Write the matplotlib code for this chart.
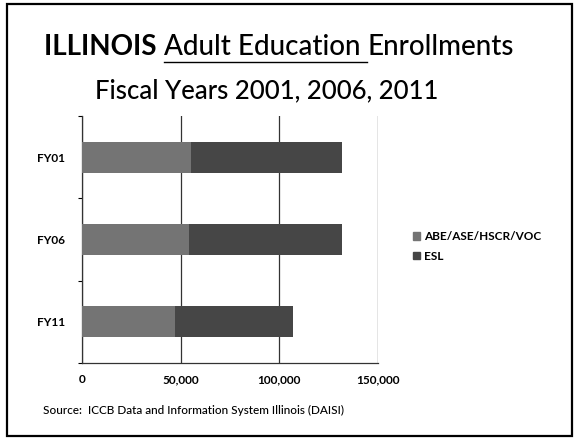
import matplotlib
matplotlib.use("Agg")
import matplotlib.pyplot as plt
from matplotlib.patches import Rectangle
from matplotlib.lines import Line2D
import numpy as np

categories = ["FY01", "FY06", "FY11"]
abe = [55000, 54000, 47000]
esl = [77000, 78000, 60000]
series_names = ["ABE/ASE/HSCR/VOC", "ESL"]
xticks = [0, 50000, 100000, 150000]
xticklabels = ["0", "50,000", "100,000", "150,000"]

plt.rcParams['font.family'] = ['Lato', 'DejaVu Sans']

fig = plt.figure(figsize=(5.75, 4.4), dpi=100)
W, H = 575, 440

# outer frame
fig.patches.append(Rectangle((7 / W, 4 / H), 565 / W, 432 / H, transform=fig.transFigure,
                             fill=False, edgecolor='black', linewidth=1.6))

ax = fig.add_axes([82 / W, (440 - 363) / H, (378 - 82) / W, (363 - 116) / H])
y = np.arange(len(categories))
c_abe = '#747474'
c_esl = '#464646'
ax.barh(y, abe, height=0.38, color=c_abe, label=series_names[0], zorder=3)
ax.barh(y, esl, left=abe, height=0.38, color=c_esl, label=series_names[1], zorder=3)
ax.set_ylim(len(categories) - 0.5, -0.5)
ax.set_xlim(0, 150000)
ax.set_yticks(y)
ax.set_yticklabels(categories, fontsize=8.5, fontweight='bold')
ax.set_xticks(xticks)
ax.set_xticklabels(xticklabels, fontsize=8.5, fontweight='bold')
ax.tick_params(axis='y', length=0, pad=12)
ax.tick_params(axis='x', length=0, pad=8)
ax.set_yticks(np.arange(-0.5, len(categories), 1.0), minor=True)
ax.tick_params(axis='y', which='minor', length=3, width=0.8, direction='out')
ax.grid(axis='x', color='#333333', linewidth=0.9, zorder=0)
for s in ['top', 'right']:
    ax.spines[s].set_visible(False)
for s in ['left', 'bottom']:
    ax.spines[s].set_linewidth(0.9)
    ax.spines[s].set_color('#333333')

# legend
handles = [Rectangle((0, 0), 1, 1, color=c_abe), Rectangle((0, 0), 1, 1, color=c_esl)]
fig.legend(handles, series_names, loc='upper left', bbox_to_anchor=(413 / W, 1 - 231 / H),
           frameon=False, fontsize=8.5, handlelength=0.6, handleheight=0.6,
           handletextpad=0.35, labelspacing=0.75, borderaxespad=0, borderpad=0,
           prop={'size': 8.5, 'weight': 'bold'})

# title line 1 with mixed styles
fig.canvas.draw()
r = fig.canvas.get_renderer()
fs = 20
yb1 = 1 - 55 / H
parts = [("ILLINOIS ", 'bold', False), ("Adult Education ", 'medium', True), ("Enrollments", 'medium', False)]
texts = []
widths = []
for s, wgt, ul in parts:
    t = fig.text(0, yb1, s, fontsize=fs, fontweight=wgt, va='baseline', ha='left')
    bb = t.get_window_extent(r)
    texts.append(t)
    widths.append(bb.width)
total = sum(widths)
x0 = 279 - total / 2
for (s, wgt, ul), t, w in zip(parts, texts, widths):
    t.set_x(x0 / W)
    if ul:
        fig.lines.append(Line2D([x0 / W, (x0 + w) / W], [1 - 62 / H, 1 - 62 / H],
                                transform=fig.transFigure, color='black', linewidth=1.0))
    x0 += w

fig.text(267 / W, 1 - 98 / H, "Fiscal Years 2001, 2006, 2011", fontsize=18.5,
         fontweight='medium', ha='center', va='baseline')

fig.text(43 / W, 1 - 414 / H, "Source:  ICCB Data and Information System Illinois (DAISI)",
         fontsize=8.5, fontweight='medium', ha='left', va='baseline')

fig.savefig("out.png", dpi=100)
